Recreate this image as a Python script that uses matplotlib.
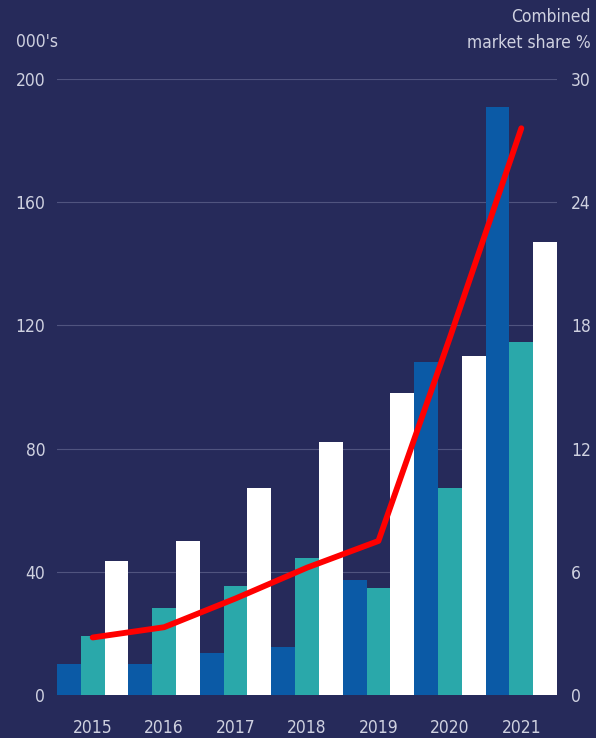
import numpy as np
import matplotlib.pyplot as plt

# Data
years = ['2015', '2016', '2017', '2018', '2019', '2020', '2021']
series_blue = [10, 10, 13.6, 15.6, 37.4, 108, 190.8]
series_teal = [19.2, 28.3, 35.4, 44.5, 34.8, 67.3, 114.7]
series_white = [43.5, 50, 67.3, 82, 98, 110, 147.2]
market_share = [2.8, 3.3, 4.7, 6.2, 7.5, 17.4, 27.6]

left_ticks = [0, 40, 80, 120, 160, 200]
right_ticks = [0, 6, 12, 18, 24, 30]

bg = '#262a5a'
txt = '#cfd1e0'
plt.rcParams['font.family'] = ['DejaVu Sans']
plt.rcParams['font.stretch'] = 'condensed'

fig = plt.figure(figsize=(5.96, 7.38), dpi=100, facecolor=bg)
ax = fig.add_axes([0.0956, 0.0583, 0.839, 0.8347])
ax.set_facecolor(bg)

x = np.arange(len(years))
w = 1 / 3
ax.bar(x - w, series_blue, w, color='#0b5aa6', zorder=2)
ax.bar(x, series_teal, w, color='#2aa8aa', zorder=2)
ax.bar(x + w, series_white, w, color='#ffffff', zorder=2)

ax.set_xlim(-0.5, len(years) - 0.5)
ax.set_ylim(0, 200)
ax.set_yticks(left_ticks)
ax.set_yticklabels([str(t) for t in left_ticks])
ax.set_xticks(x)
ax.set_xticklabels(years)
for t in left_ticks[1:]:
    ax.axhline(t, color='#50547f', linewidth=0.8, zorder=1)

ax.tick_params(axis='both', length=0, colors=txt, labelsize=12.5)
ax.tick_params(axis='y', pad=8.5)
ax.tick_params(axis='x', pad=17)
for s in ax.spines.values():
    s.set_visible(False)

ax2 = ax.twinx()
ax2.plot(x, market_share, color='#ff0000', linewidth=4.2, solid_capstyle='round',
         solid_joinstyle='round', zorder=5)
ax2.set_ylim(0, 30)
ax2.set_yticks(right_ticks)
ax2.set_yticklabels([str(t) for t in right_ticks])
ax2.tick_params(axis='y', length=0, colors=txt, labelsize=12.5, pad=10)
for s in ax2.spines.values():
    s.set_visible(False)

fig.text(16 / 596, 1 - 42 / 738, "000's", color=txt, fontsize=12.5, ha='left', va='center')
fig.text(591 / 596, 1 - 30 / 738, 'Combined\nmarket share %', color=txt, fontsize=12.5,
         ha='right', va='center', linespacing=1.6)

fig.savefig('out.png', dpi=100, facecolor=bg)
